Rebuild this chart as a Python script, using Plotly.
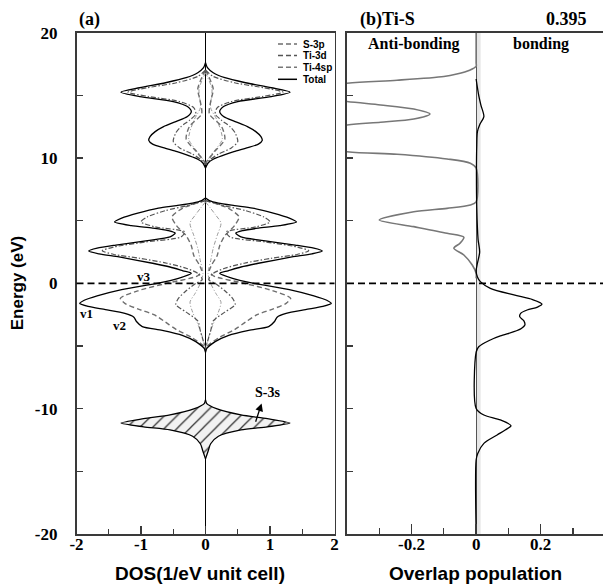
import plotly.graph_objects as go

# ---------------- Panel (a): DOS (mirrored about 0); None separates bands ----------------
energy_total = [17.6, 17.2, 16.8, 16.4, 16.0, 15.6, 15.25, 14.9, 14.5, 14.1, 13.7, 13.3, 12.9,
                12.5, 12.1, 11.7, 11.4, 11.1, 10.8, 10.5, 10.2, 9.9, 9.6, 9.2, None,
                6.8, 6.6, 6.4, 6.2, 6.0, 5.6, 5.2, 4.9, 4.6, 4.4, 4.2, 4.0, 3.7, 3.4, 3.05, 2.8,
                2.58, 2.35, 2.1, 1.6, 1.3, 1.0, 0.8, 0.4, 0.0, -0.5, -1.0, -1.35, -1.6, -1.85,
                -2.1, -2.4, -2.7, -3.05, -3.45, -3.75, -4.15, -4.65, -5.2, -5.5, None,
                -9.3, -9.6, -10.0, -10.5, -10.8, -11.15, -11.45, -11.7, -12.2, -12.8, -13.4, -14.0]
dos_total = [0, 0.03, 0.12, 0.30, 0.62, 1.02, 1.31, 1.02, 0.50, 0.28, 0.22, 0.28, 0.46,
             0.65, 0.78, 0.86, 0.88, 0.82, 0.64, 0.44, 0.27, 0.12, 0.04, 0, None,
             0, 0.06, 0.20, 0.45, 0.73, 1.05, 1.30, 1.41, 1.15, 0.82, 0.58, 0.47, 0.55, 0.90, 1.39, 1.68,
             1.81, 1.65, 1.34, 0.82, 0.55, 0.35, 0.22, 0.42, 0.75, 1.30, 1.68, 1.88, 1.95, 1.82,
             1.55, 1.25, 1.11, 1.07, 0.98, 0.67, 0.36, 0.15, 0.02, 0, None,
             0, 0.02, 0.17, 0.55, 0.96, 1.31, 0.96, 0.55, 0.20, 0.08, 0.04, 0]

energy_s3p = [17.0, 16.5, 15.5, 14.5, 13.5, 12.5, 11.5, 10.5, 9.6, None,
              6.6, 6.0, 5.3, 4.6, 3.8, 3.0, 2.2, 1.5, 1.0, 0.6, 0.0, -0.6, -1.2, -1.6, -2.1,
              -2.5, -3.1, -3.7, -4.3, -5.0, -5.4, None, -10.0, -10.5, -11.2, -12.0, -12.8]
dos_s3p = [0, 0.05, 0.12, 0.08, 0.06, 0.25, 0.30, 0.14, 0, None,
           0, 0.35, 0.52, 0.45, 0.30, 0.22, 0.18, 0.10, 0.06, 0.12, 0.60, 1.05, 1.32, 1.25, 1.02,
           0.80, 0.62, 0.45, 0.22, 0.03, 0, None, 0, 0.03, 0.05, 0.02, 0]

energy_ti3d = [17.0, 16.5, 16.0, 15.6, 15.25, 14.9, 14.5, 14.0, 13.5, 13.0, 12.5, 12.0, 11.3,
               10.8, 10.3, 9.9, 9.5, None, 6.6, 6.2, 5.8, 5.3, 4.9, 4.5, 4.1, 3.7, 3.3, 2.9, 2.6,
               2.3, 2.0, 1.6, 1.2, 0.8, 0.3, 0.0, -0.6, -1.2, -1.7, -2.3, -3.0, -3.8, -4.5,
               -5.2, None, -10.5, -11.2, -12.0]
dos_ti3d = [0, 0.12, 0.45, 0.90, 1.20, 0.88, 0.40, 0.18, 0.15, 0.25, 0.38, 0.46, 0.50,
            0.40, 0.20, 0.08, 0, None, 0, 0.28, 0.62, 0.90, 1.00, 0.78, 0.32, 0.38, 0.92, 1.42, 1.60,
            1.42, 1.02, 0.60, 0.30, 0.12, 0.05, 0.15, 0.30, 0.42, 0.46, 0.30, 0.12, 0.08, 0.04,
            0, None, 0, 0.04, 0]

energy_ti4sp = [16.8, 15.5, 14.0, 13.0, 11.5, 10.2, 9.5, None, 6.5, 5.5, 4.8, 3.8, 2.8, 1.8, 0.8,
                0.0, -0.8, -1.5, -2.3, -3.0, -3.8, -4.6, -5.3, None, -10.3, -11.2, -12.2]
dos_ti4sp = [0, 0.10, 0.08, 0.18, 0.26, 0.08, 0, None, 0, 0.15, 0.24, 0.18, 0.12, 0.08, 0.04,
             0.08, 0.16, 0.24, 0.20, 0.14, 0.08, 0.03, 0, None, 0, 0.03, 0]

s3s_band = (-14.0, -9.3)   # hatched S-3s region of the total DOS

# ---------------- Panel (b): overlap population ----------------
energy_anti = [20, 17.6, 17.3, 17.0, 16.7, 16.5, 16.2, 15.96, 15.2, 14.5, 14.23, 13.9, 13.5, 13.1,
               12.85, 12.63, 11.6, 10.5, 10.3, 9.92, 9.58, 9.2, 6.5, 6.25, 5.98, 5.71, 5.05,
               4.52, 3.99, 3.67, 3.2, 2.8, 2.26, 1.46, 0.8, 0.4]
coop_anti = [0, 0, 0, -0.02, -0.06, -0.10, -0.245, -0.40, -0.60, -0.40, -0.296, -0.193, -0.143, -0.193,
             -0.296, -0.40, -0.65, -0.40, -0.245, -0.09, -0.018, 0, 0, -0.018, -0.09, -0.193, -0.30,
             -0.193, -0.09, -0.038, -0.05, -0.069, -0.038, -0.012, 0, 0]

energy_bond = [16.3, 15.0, 14.2, 13.3, 12.7, 12.1, 11.0, 9.0, 6.0, 3.5, 2.5, 1.6, 1.0, 0.5, 0.13,
               -0.4, -0.93, -1.3, -1.65, -1.9, -2.13, -2.4, -2.66, -3.0, -3.33, -3.6, -3.86,
               -4.2, -4.52, -5.06, -5.5, -9.98, -10.51, -10.9, -11.36, -11.7, -12.1, -12.77,
               -13.57, -14.1, -20]
coop_bond = [0, 0.008, 0.015, 0.024, 0.012, 0.004, 0.002, 0.001, 0.002, 0.006, 0.011, 0.004, 0.0,
             0.004, 0.013, 0.044, 0.117, 0.175, 0.204, 0.19, 0.158, 0.138, 0.135, 0.148, 0.151,
             0.14, 0.117, 0.075, 0.044, 0.008, 0, 0, 0.024, 0.075, 0.108, 0.09, 0.065, 0.024,
             0.005, 0, 0]

x_ticks_a = [-2, -1, 0, 1, 2]
x_labels_a = ["-2", "-1", "0", "1", "2"]
x_ticks_b = [-0.2, 0, 0.2]
x_labels_b = ["-0.2", "0", "0.2"]
y_ticks = [-20, -10, 0, 10, 20]
y_labels = ["-20", "-10", "0", "10", "20"]

SERIF = "Liberation Serif, Times New Roman, serif"
SANS = "Liberation Sans, Arial, sans-serif"
W, H = 603, 587

fig = go.Figure()


def neg(v):
    return [None if a is None else -a for a in v]


def bold(labels):
    return [f"<b>{s}</b>" for s in labels]


def mirrored(E, v, xa, ya, line, smooth=0.7):
    for xs in (v, neg(v)):
        fig.add_trace(go.Scatter(x=xs, y=E, mode="lines", connectgaps=False,
                                 line=dict(shape="spline", smoothing=smooth, **line),
                                 xaxis=xa, yaxis=ya, hoverinfo="skip", showlegend=False))


# partial DOS
mirrored(energy_ti4sp, dos_ti4sp, "x", "y", dict(color="#9a9a9a", width=1.0, dash="4px,2px,1px,2px"))
mirrored(energy_s3p, dos_s3p, "x", "y", dict(color="#6e6e6e", width=1.4, dash="5px,3px"))
mirrored(energy_ti3d, dos_ti3d, "x", "y", dict(color="#555555", width=1.2, dash="5px,2px,1.5px,2px"))

# hatched S-3s band built from the total DOS
band = [(e, d) for e, d in zip(energy_total, dos_total)
        if e is not None and s3s_band[0] <= e <= s3s_band[1]]
bE = [e for e, _ in band]
bD = [d for _, d in band]
fig.add_trace(go.Scatter(x=bD + [-d for d in bD[::-1]], y=bE + bE[::-1], mode="lines",
                         fill="toself", line=dict(width=0, shape="spline", smoothing=0.7),
                         fillpattern=dict(shape="/", fgcolor="#333333", bgcolor="#f2f2f2",
                                          size=9, solidity=0.14),
                         xaxis="x", yaxis="y", hoverinfo="skip", showlegend=False))

# total DOS
mirrored(energy_total, dos_total, "x", "y", dict(color="black", width=1.3))

# panel b: zero-line halo
fig.add_shape(type="rect", xref="x2", yref="y2", x0=0, x1=0.014, y0=-20, y1=20,
              fillcolor="#e6e6e6", line=dict(width=0), layer="below")

fig.add_trace(go.Scatter(x=coop_anti, y=energy_anti, mode="lines",
                         line=dict(color="#777777", width=1.6, shape="spline", smoothing=0.8),
                         xaxis="x2", yaxis="y2", hoverinfo="skip", showlegend=False))
fig.add_trace(go.Scatter(x=coop_bond, y=energy_bond, mode="lines",
                         line=dict(color="black", width=1.3, shape="spline", smoothing=0.8),
                         xaxis="x2", yaxis="y2", hoverinfo="skip", showlegend=False))

# Fermi level
for xr in ("x", "x2"):
    fig.add_shape(type="line", xref=f"{xr} domain", yref="y", x0=0, x1=1, y0=0, y1=0,
                  line=dict(color="black", width=1.8, dash="7px,4px"))

tickfont = dict(family=SERIF, size=17, color="black")
frame = dict(showline=True, linecolor="#3a3a3a", linewidth=1.6, showgrid=False, automargin=False)

fig.update_layout(
    template="none",
    font=dict(family=SERIF, color="black"),
    width=W, height=H, margin=dict(l=0, r=0, t=0, b=0, pad=0, autoexpand=False),
    paper_bgcolor="white", plot_bgcolor="white", showlegend=False,
    xaxis=dict(domain=[76.5 / W, 334.5 / W], range=[-2, 2], tickvals=x_ticks_a,
               ticktext=bold(x_labels_a),
               ticks="inside", ticklen=8, tickwidth=1.3, tickcolor="#3a3a3a",
               minor=dict(dtick=0.5, ticks="inside", ticklen=5, tickwidth=1.2, tickcolor="#3a3a3a"),
               tickfont=tickfont, mirror=True, zeroline=True, zerolinecolor="black",
               zerolinewidth=1.1, ticklabelstandoff=-6, **frame),
    yaxis=dict(domain=[53 / H, (H - 32.6) / H], range=[-20, 20], tickvals=y_ticks,
               ticktext=bold(y_labels),
               ticks="inside", ticklen=6, tickwidth=1.3, tickcolor="#3a3a3a",
               minor=dict(dtick=5, ticks="inside", ticklen=6, tickwidth=1.3, tickcolor="#3a3a3a"),
               tickfont=tickfont, mirror=True, zeroline=False, ticklabelstandoff=14, **frame),
    xaxis2=dict(domain=[347 / W, 1.0], range=[-0.4, 0.393], tickvals=x_ticks_b,
                ticktext=bold(x_labels_b),
                ticks="inside", ticklen=10, tickwidth=1.3, tickcolor="#3a3a3a",
                minor=dict(dtick=0.1, ticks="inside", ticklen=6, tickwidth=1.2, tickcolor="#3a3a3a"),
                tickfont=tickfont, mirror=True, zeroline=True, zerolinecolor="#555555",
                zerolinewidth=1.2, ticklabelstandoff=-6, anchor="y2", **frame),
    yaxis2=dict(domain=[53 / H, (H - 32.6) / H], range=[-20, 20], matches="y", anchor="x2",
                tickvals=y_ticks, showticklabels=False,
                ticks="inside", ticklen=6, tickwidth=1.3, tickcolor="#3a3a3a",
                minor=dict(dtick=5, ticks="inside", ticklen=6, tickwidth=1.3, tickcolor="#3a3a3a"),
                mirror=False, zeroline=False, **frame),
)


def px(x):
    return x / W


def py(y):
    return 1 - y / H


ann = []
ser = lambda s: dict(family=SERIF, size=s, color="black", weight="bold")
san = lambda s: dict(family=SANS, size=s, color="black", weight="bold")


def label(text, x, y, font, xanchor="center", **kw):
    ann.append(dict(text=text, x=px(x), y=py(y), xref="paper", yref="paper",
                    xanchor=xanchor, yanchor="middle", showarrow=False, font=font, **kw))


label("(a)", 77, 19, ser(18), "left")
label("(b)Ti-S", 358, 19, ser(18), "left")
label("0.395", 589, 19, ser(18), "right")
label("Anti-bonding", 413.7, 44.3, ser(16))
label("bonding", 540.7, 44.3, ser(16))
label("Energy (eV)", 17, 283.3, san(17), textangle=-90)
label("DOS(1/eV unit cell)", 200, 573, san(19))
label("Overlap population", 475, 573, san(19))

# band labels
for t, xv, yv in (("v1", -1.845, -2.37), ("v2", -1.33, -3.33), ("v3", -0.95, 0.58)):
    ann.append(dict(text=t, x=xv, y=yv, xref="x", yref="y", xanchor="center", yanchor="middle",
                    showarrow=False, font=ser(13)))
ann.append(dict(text="S-3s", x=0.96, y=-8.73, xref="x", yref="y", xanchor="center",
                yanchor="middle", showarrow=False, font=ser(14)))
ann.append(dict(text="", x=0.87, y=-9.58, ax=0.77, ay=-11.17, xref="x", yref="y",
                axref="x", ayref="y", showarrow=True, arrowhead=2, arrowsize=1.2,
                arrowwidth=1.3, arrowcolor="black"))

# legend
legend_rows = [("S-3p", 44, "#6e6e6e", "5px,3px"), ("Ti-3d", 55.5, "#555555", "5px,3px"),
               ("Ti-4sp", 67.3, "#777777", "5px,3px"), ("Total", 79.3, "black", "solid")]
for name, yy, col, dsh in legend_rows:
    fig.add_shape(type="line", xref="paper", yref="paper", x0=px(278), x1=px(297),
                  y0=py(yy), y1=py(yy), line=dict(color=col, width=1.5, dash=dsh))
    label(name, 301, yy, san(10), "left")

fig.update_layout(annotations=ann)
fig.write_html("out.html", config={"displayModeBar": False, "staticPlot": True},
               post_script="document.body.style.margin='0px';"
                           "document.body.style.overflow='hidden';")
